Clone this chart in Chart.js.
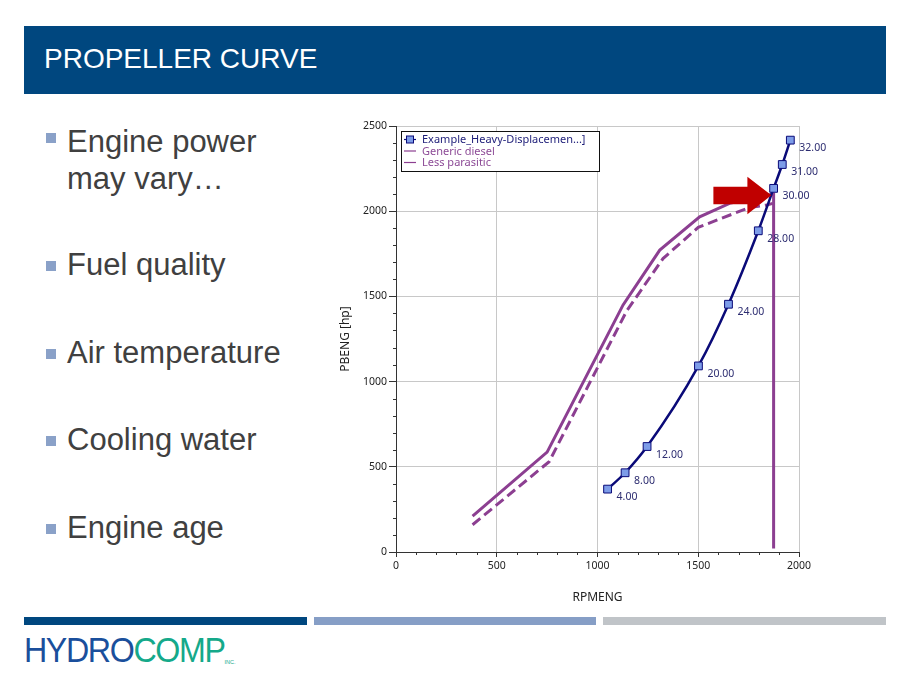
<!DOCTYPE html>
<html>
<head>
<meta charset="utf-8">
<script src="https://cdn.jsdelivr.net/npm/chart.js@4.4.0/dist/chart.umd.min.js"></script>
<style>
  body { margin: 0; width: 903px; height: 685px; background: #fff; position: relative; overflow: hidden; font-family: "Liberation Sans", Arial, sans-serif; }
  .titlebar { position: absolute; left: 24px; top: 26px; width: 862px; height: 68px; background: #00477f; }
  .titlebar span { position: absolute; left: 20px; top: 17px; color: #fff; font-size: 28px; }
  .bullets { position: absolute; left: 46px; top: 0; color: #404040; font-size: 31px; }
  .b { position: absolute; left: 0; white-space: nowrap; }
  .b i { position: absolute; left: 0; width: 10px; height: 10px; background: #8aa1c8; }
  .b span { position: absolute; left: 21px; line-height: 37px; }
  .bar { position: absolute; top: 617px; height: 8px; }
  .logo { position: absolute; left: 24px; top: 630px; font-size: 35px; letter-spacing: -1.5px; transform: scaleX(0.92); transform-origin: left; }
  .logo .h { color: #1a4f9c; }
  .logo .c { color: #15a98a; }
  .logo sup { font-size: 6px; color: #15a98a; vertical-align: -2px; letter-spacing: 0; }
  #wrap { position: absolute; left: 330px; top: 110px; width: 530px; height: 500px; }
</style>
</head>
<body>
<div class="titlebar"><span>PROPELLER CURVE</span></div>
<div class="bullets">
  <div class="b" style="top:123px"><i style="top:10px"></i><span>Engine power<br>may vary…</span></div>
  <div class="b" style="top:246px"><i style="top:15px"></i><span>Fuel quality</span></div>
  <div class="b" style="top:334px"><i style="top:15px"></i><span>Air temperature</span></div>
  <div class="b" style="top:421px"><i style="top:15px"></i><span>Cooling water</span></div>
  <div class="b" style="top:509px"><i style="top:15px"></i><span>Engine age</span></div>
</div>
<div class="bar" style="left:24px;width:283px;background:#00477f"></div>
<div class="bar" style="left:314px;width:282px;background:#869ec6"></div>
<div class="bar" style="left:603px;width:283px;background:#c0c4c8"></div>
<div class="logo"><span class="h">HYDRO</span><span class="c">COMP<sup>INC.</sup></span></div>
<div id="wrap"><canvas id="propChart"></canvas></div>
<script>
// propeller curve (speed labels in knots)
var propRpm = [1050, 1137, 1246, 1501, 1650, 1798, 1874, 1917, 1957];
var propHp = [369, 465, 619, 1092, 1454, 1885, 2134, 2274, 2417];
var propSpeed = ["4.00", "8.00", "12.00", "20.00", "24.00", "28.00", "30.00", "31.00", "32.00"];

// Generic diesel engine curve
var dieselRpm = [380, 750, 1127, 1309, 1507, 1655, 1838, 1874, 1874];
var dieselHp = [210, 586, 1450, 1772, 1967, 2046, 2094, 2100, 20];

// Less parasitic curve
var lessRpm = [380, 760, 1145, 1325, 1500, 1750, 1840, 1870];
var lessHp = [160, 530, 1415, 1722, 1905, 2020, 2036, 2046];

var seriesNames = ["Example_Heavy-Displacemen...]", "Generic diesel", "Less parasitic"];
var arrowTip = { x: 1863, y: 2094 };

function toPoints(xs, ys) {
    return xs.map(function(v, i) { return { x: v, y: ys[i] }; });
}

var navy = "#0a0a78";
var purple = "#8c3f91";

var extras = {
    id: "extras",
    afterDatasetsDraw: function(chart) {
        var ctx = chart.ctx;
        var xs = chart.scales.x, ys = chart.scales.y;
        var area = chart.chartArea;
        ctx.save();

        // minor ticks
        ctx.strokeStyle = "#333";
        ctx.lineWidth = 1;
        ctx.beginPath();
        for (var v = 100; v < 2500; v += 100) {
            if (v % 500 === 0) continue;
            var py = Math.round(ys.getPixelForValue(v)) + 0.5;
            ctx.moveTo(area.left - 3, py);
            ctx.lineTo(area.left, py);
        }
        for (var u = 100; u < 2000; u += 100) {
            if (u % 500 === 0) continue;
            var px = Math.round(xs.getPixelForValue(u)) + 0.5;
            ctx.moveTo(px, area.bottom);
            ctx.lineTo(px, area.bottom + 3);
        }
        ctx.stroke();

        // speed labels
        ctx.fillStyle = "#2c2c70";
        ctx.font = "10.5px 'Noto Sans'";
        ctx.textBaseline = "middle";
        ctx.textAlign = "left";
        propSpeed.forEach(function(s, i) {
            var px = xs.getPixelForValue(propRpm[i]);
            var py = ys.getPixelForValue(propHp[i]);
            ctx.fillText(s, px + 9, py + 8);
        });

        // red arrow
        var tx = xs.getPixelForValue(arrowTip.x);
        var ty = ys.getPixelForValue(arrowTip.y);
        ctx.fillStyle = "#c00000";
        ctx.beginPath();
        ctx.moveTo(tx, ty);
        ctx.lineTo(tx - 24, ty - 18.5);
        ctx.lineTo(tx - 24, ty - 8.5);
        ctx.lineTo(tx - 58, ty - 8.5);
        ctx.lineTo(tx - 58, ty + 9);
        ctx.lineTo(tx - 24, ty + 9);
        ctx.lineTo(tx - 24, ty + 19);
        ctx.closePath();
        ctx.fill();

        // legend box
        var lx = area.left + 5, ly = area.top + 5;
        ctx.fillStyle = "#fff";
        ctx.fillRect(lx, ly, 198, 40);
        ctx.strokeStyle = "#111";
        ctx.strokeRect(lx + 0.5, ly + 0.5, 198, 40);
        var colors = [navy, purple, purple];
        var textColors = ["#1c1c78", "#8c4a96", "#8c4a96"];
        ctx.font = "11px 'Noto Sans'";
        seriesNames.forEach(function(name, i) {
            var cy = ly + 8 + i * 11.5;
            ctx.strokeStyle = colors[i];
            ctx.lineWidth = 1.2;
            ctx.beginPath();
            ctx.moveTo(lx + 3, cy + 0.5);
            ctx.lineTo(lx + 15, cy + 0.5);
            ctx.stroke();
            if (i === 0) {
                ctx.fillStyle = "#7d9ce8";
                ctx.fillRect(lx + 5.5, cy - 3, 7, 7);
                ctx.strokeStyle = navy;
                ctx.lineWidth = 1;
                ctx.strokeRect(lx + 5.5, cy - 3, 7, 7);
            }
            ctx.fillStyle = textColors[i];
            ctx.fillText(name, lx + 21, cy + 1);
        });
        ctx.restore();
    }
};

var tickFont = { family: "'Noto Sans'", size: 10.5 };
var titleFont = { family: "'Noto Sans'", size: 12 };
var plainNumber = function(value) { return String(value); };

new Chart(document.getElementById("propChart"), {
    type: "line",
    data: {
        datasets: [
            {
                label: seriesNames[0],
                data: toPoints(propRpm, propHp),
                borderColor: navy,
                borderWidth: 2.5,
                cubicInterpolationMode: "monotone",
                pointStyle: "rect",
                pointRadius: 5.5,
                pointBorderWidth: 1,
                pointBorderColor: navy,
                pointBackgroundColor: "#7d9ce8",
            },
            {
                label: seriesNames[1],
                data: toPoints(dieselRpm, dieselHp),
                borderColor: purple,
                borderWidth: 3,
                tension: 0,
                pointRadius: 0,
            },
            {
                label: seriesNames[2],
                data: toPoints(lessRpm, lessHp),
                borderColor: purple,
                borderWidth: 3,
                borderDash: [10, 5],
                tension: 0,
                pointRadius: 0,
            },
        ],
    },
    options: {
        responsive: true,
        maintainAspectRatio: false,
        animation: false,
        layout: { padding: { top: 16, right: 61, left: 0, bottom: 0 } },
        plugins: { legend: { display: false }, tooltip: { enabled: false } },
        scales: {
            x: {
                type: "linear",
                min: 0,
                max: 2000,
                afterFit: function(scale) { scale.height = 58; },
                ticks: { stepSize: 500, font: tickFont, color: "#222", padding: 3, maxRotation: 0, callback: plainNumber },
                grid: { color: "#c8c8c8", tickColor: "#333", tickLength: 5 },
                border: { color: "#333" },
                title: { display: true, text: "RPMENG", font: titleFont, color: "#222", padding: { top: 0, bottom: 5 } },
            },
            y: {
                min: 0,
                max: 2500,
                afterFit: function(scale) { scale.width = 66; },
                ticks: { stepSize: 500, font: tickFont, color: "#222", padding: 2, callback: plainNumber },
                grid: { color: "#c8c8c8", tickColor: "#333", tickLength: 7 },
                border: { color: "#333" },
                title: { display: true, text: "PBENG [hp]", font: titleFont, color: "#222", padding: { top: 8, bottom: 0 } },
            },
        },
    },
    plugins: [extras],
});
</script>
</body>
</html>
